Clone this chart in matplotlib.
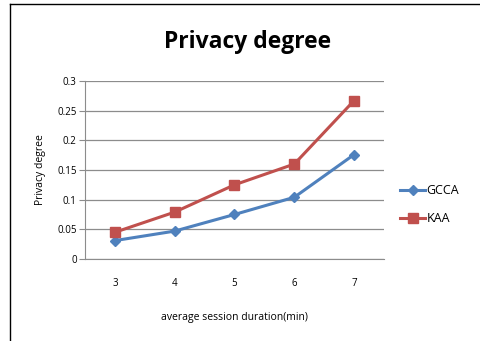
import matplotlib
matplotlib.use("Agg")
import matplotlib.pyplot as plt
from matplotlib.lines import Line2D

# Data
durations = [3, 4, 5, 6, 7]
gcca = [0.031, 0.047, 0.075, 0.104, 0.176]
kaa = [0.045, 0.079, 0.125, 0.160, 0.267]
yticks = [0, 0.05, 0.1, 0.15, 0.2, 0.25, 0.3]
ytick_labels = ["0", "0.05", "0.1", "0.15", "0.2", "0.25", "0.3"]

plt.rcParams['font.family'] = ['Open Sans', 'DejaVu Sans']

fig = plt.figure(figsize=(4.8, 3.41), dpi=100)
ax = fig.add_axes([0.177, 0.2405, 0.623, 0.522])

ax.plot(durations, gcca, color='#4F81BD', lw=2.2, marker='D', ms=5,
        label='GCCA', zorder=3)
ax.plot(durations, kaa, color='#C0504D', lw=2.2, marker='s', ms=7,
        label='KAA', zorder=3)

ax.set_xlim(2.5, 7.5)
ax.set_ylim(0, 0.3)
ax.set_xticks(durations)
ax.set_yticks(yticks)
ax.set_yticklabels(ytick_labels)
ax.grid(axis='y', color='#8c8c8c', lw=0.9)
ax.set_axisbelow(True)

for s in ['top', 'right']:
    ax.spines[s].set_visible(False)
ax.spines['left'].set_color('#8c8c8c')
ax.spines['bottom'].set_color('#8c8c8c')
ax.tick_params(axis='y', length=4, color='#8c8c8c', labelsize=7, pad=2)
ax.tick_params(axis='x', length=0, labelsize=7, pad=14)

ax.set_xlabel('average session duration(min)', fontsize=7.5, labelpad=16)
ax.set_ylabel('Privacy degree', fontsize=7.5, labelpad=8)

fig.text(0.515, 0.876, 'Privacy degree', ha='center', va='center',
         fontsize=16.5, fontweight='bold')

ax.legend(loc='center left', bbox_to_anchor=(1.055, 0.305), frameon=False,
          fontsize=9, handlelength=2.0, handletextpad=0.1, labelspacing=1.2,
          borderaxespad=0, borderpad=0)

# frame lines of the original picture
fig.add_artist(Line2D([0.021, 1.0], [0.988, 0.988], color='black', lw=1))
fig.add_artist(Line2D([0.021, 0.021], [0.0, 0.988], color='black', lw=1))

fig.savefig('out.png', dpi=100)
